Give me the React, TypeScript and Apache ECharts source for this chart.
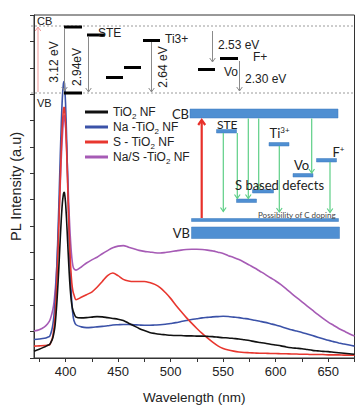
import { useEffect, useRef } from "react";
import * as echarts from "echarts";

// Emission wavelength grid (nm): dense across the band-edge peak, 5 nm steps elsewhere
const WAVELENGTH = [
  370, 375, 380, 383, 385,
  387, 388, 389, 390, 391, 392, 393, 394, 395, 396, 397, 398, 398.5,
  399, 400, 401, 402, 403, 404, 405, 406, 407, 408,
  410, 415, 420, 425, 430, 435, 440, 445, 450, 455,
  460, 465, 470, 475, 480, 485, 490, 495, 500, 505,
  510, 515, 520, 525, 530, 535, 540, 545, 550, 555,
  560, 565, 570, 575, 580, 585, 590, 595, 600, 605,
  610, 615, 620, 625, 630, 635, 640, 645, 650, 655,
  660, 665, 670, 675,
];

const TIO2 = [
  0.26, 0.33, 0.42, 0.48, 0.52,
  0.67, 0.78, 0.96, 1.22, 1.67, 2.25, 2.94, 3.72, 4.54, 5.28, 5.87, 6.21, 6.28,
  6.26, 5.9, 5.24, 4.42, 3.6, 2.89, 2.36, 2.01, 1.81, 1.7,
  1.55, 1.52, 1.53, 1.55, 1.57, 1.56, 1.53, 1.5, 1.47, 1.42,
  1.32, 1.22, 1.12, 1.04, 0.97, 0.93, 0.9, 0.88, 0.86, 0.85,
  0.85, 0.84, 0.84, 0.83, 0.83, 0.82, 0.81, 0.79, 0.77, 0.76,
  0.74, 0.72, 0.69, 0.66, 0.62, 0.59, 0.56, 0.52, 0.49, 0.46,
  0.42, 0.39, 0.37, 0.35, 0.32, 0.29, 0.27, 0.25, 0.24, 0.22,
  0.2, 0.18, 0.16, 0.14,
];

const NA_TIO2 = [
  0.7, 0.72, 0.75, 0.79, 0.83,
  1.07, 1.28, 1.61, 2.11, 2.82, 3.77, 4.95, 6.28, 7.66, 8.91, 9.87, 10.4, 10.48,
  10.41, 9.68, 8.4, 6.83, 5.24, 3.86, 2.81, 2.1, 1.65, 1.42,
  1.26, 1.18, 1.15, 1.16, 1.18, 1.2, 1.22, 1.25, 1.26, 1.27,
  1.27, 1.26, 1.25, 1.24, 1.24, 1.25, 1.26, 1.28, 1.31, 1.34,
  1.38, 1.42, 1.46, 1.49, 1.52, 1.54, 1.56, 1.57, 1.58, 1.57,
  1.55, 1.53, 1.5, 1.47, 1.43, 1.39, 1.35, 1.3, 1.25, 1.19,
  1.13, 1.07, 1.02, 0.97, 0.91, 0.85, 0.79, 0.73, 0.67, 0.62,
  0.57, 0.53, 0.49, 0.45,
];

const S_TIO2 = [
  0.45, 0.46, 0.47, 0.48, 0.5,
  0.69, 0.86, 1.14, 1.56, 2.25, 3.17, 4.26, 5.5, 6.77, 7.94, 8.85, 9.4, 9.5,
  9.47, 8.92, 7.9, 6.61, 5.32, 4.21, 3.38, 2.84, 2.54, 2.4,
  2.21, 2.3, 2.4, 2.5, 2.68, 2.9, 3.12, 3.22, 3.12, 2.98,
  2.92, 2.9, 2.9, 2.9, 2.86, 2.79, 2.67, 2.48, 2.26, 2.0,
  1.76, 1.53, 1.32, 1.12, 0.93, 0.76, 0.6, 0.46, 0.36, 0.3,
  0.26, 0.23, 0.21, 0.2, 0.19, 0.18, 0.18, 0.17, 0.17, 0.16,
  0.16, 0.15, 0.15, 0.14, 0.14, 0.13, 0.13, 0.13, 0.12, 0.12,
  0.12, 0.11, 0.11, 0.11,
];

const NAS_TIO2 = [
  1.02, 1.07, 1.18, 1.3, 1.42,
  1.68, 1.85, 2.1, 2.5, 3.0, 3.7, 4.6, 5.6, 6.6, 7.6, 8.4, 9.0, 9.2,
  9.15, 8.8, 8.0, 7.0, 5.9, 5.0, 4.3, 3.8, 3.5, 3.38,
  3.33, 3.45, 3.6, 3.72, 3.82, 3.95, 4.07, 4.18, 4.24, 4.26,
  4.2, 4.14, 4.08, 4.04, 4.02, 3.99, 3.98, 4.0, 4.03, 4.06,
  4.09, 4.11, 4.12, 4.12, 4.11, 4.09, 4.06, 4.01, 3.96, 3.88,
  3.81, 3.73, 3.63, 3.52, 3.41, 3.29, 3.17, 3.04, 2.92, 2.78,
  2.62, 2.45, 2.29, 2.13, 1.97, 1.81, 1.65, 1.5, 1.36, 1.24,
  1.12, 1.02, 0.92, 0.83,
];

const SERIES_NAMES = ["TiO2 NF", "Na -TiO2 NF", "S - TiO2 NF", "Na/S -TiO2 NF"];
const LEGEND_RICH = [
  "{n|TiO}{s|2}{n| NF}",
  "{n|Na -TiO}{s|2}{n| NF}",
  "{n|S - TiO}{s|2}{n| NF}",
  "{n|Na/S -TiO}{s|2}{n| NF}",
];
const SERIES_COLORS = ["#111111", "#3b52a8", "#e8372f", "#a65bb5"];
const SERIES_VALUES = [TIO2, NA_TIO2, S_TIO2, NAS_TIO2];

const X_LABELS = [400, 450, 500, 550, 600, 650];
const X_TICKS = [375, 400, 425, 450, 475, 500, 525, 550, 575, 600, 625, 650, 675];

const FONT = '"Liberation Sans", Arial, sans-serif';
const INSET_FONT = 'Lato, "Liberation Sans", sans-serif';
const GREY = "#8a8a8a";
const BAND = "#4f8fd2";
const GREEN = "#5dcf86";

function arrow(x: number, y1: number, y2: number, color: string, width: number, head: number) {
  const dir = y2 > y1 ? -1 : 1;
  return [
    { type: "line", shape: { x1: x, y1, x2: x, y2 }, style: { stroke: color, lineWidth: width } },
    {
      type: "polyline",
      shape: { points: [[x - head * 0.7, y2 + dir * head], [x, y2], [x + head * 0.7, y2 + dir * head]] },
      style: { stroke: color, lineWidth: width, fill: null },
    },
  ];
}

function text(x: number, y: number, t: string, size: number, extra: any = {}, family = FONT) {
  const { rotation, ...style } = extra;
  return {
    type: "text",
    x,
    y,
    rotation: rotation || 0,
    style: { text: t, fontSize: size, fontFamily: family, fill: "#222", align: "left", verticalAlign: "middle", ...style },
  };
}

function bar(x1: number, x2: number, y: number) {
  return { type: "line", shape: { x1, y1: y, x2, y2: y }, style: { stroke: "#000", lineWidth: 3 } };
}

function band(x: number, y: number, w: number, h: number) {
  return { type: "rect", shape: { x, y, width: w, height: h }, style: { fill: BAND, stroke: "#3f7bbd", lineWidth: 0.5 } };
}

// Energy level scheme across the top of the plot
const levelScheme: any[] = [
  { type: "line", shape: { x1: 31, y1: 26, x2: 354, y2: 26 }, style: { stroke: "#9a9a9a", lineWidth: 1, lineDash: [2, 2] } },
  { type: "line", shape: { x1: 31, y1: 93, x2: 354, y2: 93 }, style: { stroke: "#9a9a9a", lineWidth: 1, lineDash: [2, 2] } },
  ...arrow(38, 92, 27, "#f29a9a", 1, 4),
  text(37, 21, "CB", 11),
  text(37, 103, "VB", 11),
  text(54, 62, "3.12 eV", 12, { rotation: Math.PI / 2, align: "center" }),
  bar(64, 82, 27),
  bar(64, 82, 93),
  ...arrow(64.5, 29, 91, GREY, 1, 4),
  text(77, 67, "2.94eV", 12, { rotation: Math.PI / 2, align: "center" }),
  bar(87, 105, 35),
  text(98, 33, "STE", 12),
  ...arrow(88.5, 37, 92, GREY, 1, 4),
  bar(106, 123, 77.5),
  bar(124, 141, 67.5),
  bar(143, 160, 40.5),
  text(165, 39, "Ti3+", 12),
  ...arrow(151.5, 42, 92, GREY, 1, 4),
  text(162.5, 67, "2.64 eV", 12, { rotation: Math.PI / 2, align: "center" }),
  bar(198, 215, 69.5),
  text(224, 72, "Vo", 12),
  ...arrow(212.5, 31, 62, GREY, 1, 4),
  text(218, 45, "2.53 eV", 12),
  bar(220, 238, 58.5),
  text(253, 57, "F+", 12),
  ...arrow(239.5, 61, 91, GREY, 1, 4),
  text(245, 79, "2.30 eV", 12),
];

// Inset: band diagram with defect levels
const inset: any[] = [
  band(190, 109, 148, 9),
  band(191.5, 227, 148, 11.5),
  band(191.5, 218.5, 147, 3),
  text(189, 114, "CB", 13, { align: "right" }, INSET_FONT),
  text(190, 232.5, "VB", 13, { align: "right" }, INSET_FONT),
  ...arrow(201.7, 218, 120, "#e8302a", 2.2, 5),
  band(216.5, 129.5, 20, 3.5),
  text(217, 124.5, "STE", 12, {}, INSET_FONT),
  band(236.5, 199, 20, 3.5),
  band(252.5, 189.5, 21, 3.5),
  band(269, 142.5, 20, 3.5),
  {
    type: "text",
    x: 269.5,
    y: 133,
    style: {
      text: "{a|Ti}{b|3+}",
      fill: "#222",
      verticalAlign: "middle",
      rich: {
        a: { fontSize: 13, fontFamily: INSET_FONT, fill: "#222", lineHeight: 14 },
        b: { fontSize: 8, fontFamily: INSET_FONT, fill: "#222", verticalAlign: "top" },
      },
    },
  },
  band(293, 173.5, 20, 3.5),
  text(294, 165, "Vo", 13, {}, INSET_FONT),
  band(316.5, 158.5, 20, 3.5),
  {
    type: "text",
    x: 332.5,
    y: 152,
    style: {
      text: "{a|F}{b|+}",
      fill: "#222",
      verticalAlign: "middle",
      rich: {
        a: { fontSize: 13, fontFamily: INSET_FONT, fill: "#222", lineHeight: 14 },
        b: { fontSize: 8, fontFamily: INSET_FONT, fill: "#222", verticalAlign: "top" },
      },
    },
  },
  ...arrow(223.3, 133, 211.5, GREEN, 1.2, 4),
  ...arrow(237.3, 133, 198.5, GREEN, 1.2, 4),
  ...arrow(248.3, 118.5, 198.5, GREEN, 1.2, 4),
  ...arrow(258.7, 118.5, 189, GREEN, 1.2, 4),
  ...arrow(279.3, 146, 212, GREEN, 1.2, 4),
  ...arrow(311.7, 118.5, 173, GREEN, 1.2, 4),
  ...arrow(330, 162, 212.5, GREEN, 1.2, 4),
  text(235, 185, "S based defects", 13, {}, INSET_FONT),
  text(258, 215, "Possibility of C doping", 8, { fill: "#444" }, INSET_FONT),
];

export default function App() {
  const ref = useRef<HTMLDivElement>(null);

  useEffect(() => {
    const chart = echarts.init(ref.current!, null, { renderer: "svg" });
    const series = SERIES_NAMES.map((name, i) => ({
      name,
      type: "line",
      data: WAVELENGTH.map((w, j) => [w, SERIES_VALUES[i][j]]),
      showSymbol: false,
      smooth: 0.3,
      lineStyle: { color: SERIES_COLORS[i], width: 1.6 },
      itemStyle: { color: SERIES_COLORS[i] },
      z: [5, 3, 4, 2][i],
    }));
    const richByName: Record<string, string> = {};
    SERIES_NAMES.forEach((n, i) => (richByName[n] = LEGEND_RICH[i]));

    chart.setOption({
      animation: false,
      backgroundColor: "#fff",
      grid: { left: 31, right: 6.5, top: 15, bottom: 47, show: true, borderColor: "#333", borderWidth: 1, backgroundColor: "transparent" },
      xAxis: {
        type: "value",
        min: 370,
        max: 675,
        axisLine: { show: true, lineStyle: { color: "#333", width: 1 } },
        axisTick: { show: true, length: 4, customValues: X_TICKS, lineStyle: { color: "#333" } },
        axisLabel: { customValues: X_LABELS, fontSize: 13, margin: 7, color: "#222", fontFamily: FONT },
        splitLine: { show: false },
        name: "Wavelength (nm)",
        nameLocation: "middle",
        nameGap: 32,
        nameTextStyle: { fontSize: 13.5, color: "#222", fontFamily: FONT },
      },
      yAxis: {
        type: "value",
        min: 0,
        max: 13,
        interval: 1,
        axisLine: { show: true, lineStyle: { color: "#333", width: 1 } },
        axisTick: { show: true, length: 4, lineStyle: { color: "#333" } },
        axisLabel: { show: false },
        splitLine: { show: false },
        name: "PL Intensity (a.u)",
        nameLocation: "middle",
        nameGap: 11,
        nameTextStyle: { fontSize: 14.5, color: "#222", fontFamily: FONT },
      },
      legend: {
        orient: "vertical",
        left: 85,
        top: 106,
        padding: 0,
        itemGap: 1,
        itemWidth: 23,
        itemHeight: 3,
        icon: "rect",
        data: SERIES_NAMES,
        formatter: (name: string) => richByName[name],
        textStyle: {
          color: "#222",
          fontFamily: FONT,
          fontSize: 12,
          rich: {
            n: { fontSize: 12, lineHeight: 16, fontFamily: FONT, color: "#222" },
            s: { fontSize: 8, fontFamily: FONT, color: "#222", verticalAlign: "bottom" },
          },
        },
      },
      graphic: [...levelScheme, ...inset].map((g) => ({ ...g, z: 10 })),
      series,
    });
    return () => chart.dispose();
  }, []);

  return (
    <div
      ref={ref}
      style={{ position: "fixed", left: 0, top: 0, width: 361, height: 409, background: "#fff" }}
    />
  );
}
